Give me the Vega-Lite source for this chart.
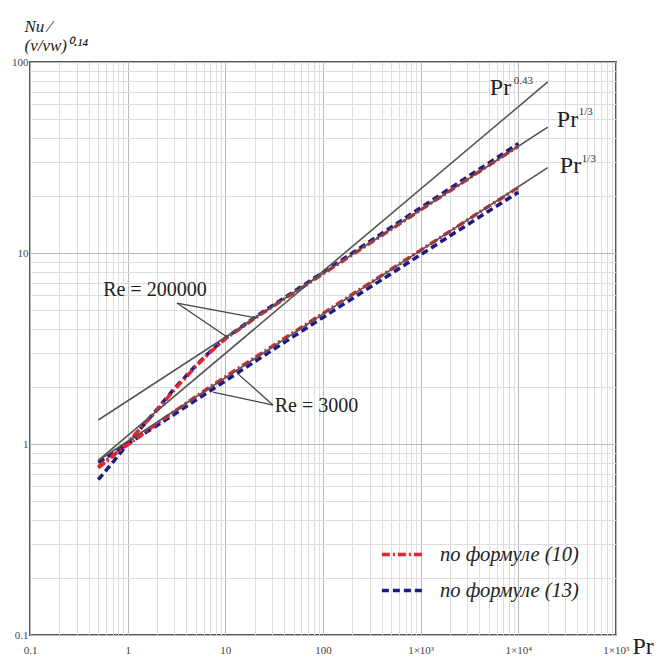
{
  "$schema": "https://vega.github.io/schema/vega-lite/v6.json",
  "width": 586,
  "height": 573,
  "autosize": {"type": "none"},
  "padding": {"left": 30, "top": 62, "right": 48, "bottom": 23},
  "background": "white",
  "config": {
    "font": "Liberation Serif",
    "view": {"stroke": "#555555", "strokeWidth": 2}
  },
  "datasets": {
    "curves": [
      {"Pr": 0.5, "Nu": 0.65, "formula": "по формуле (13)", "Re": "200000"},
      {"Pr": 0.7, "Nu": 0.80, "formula": "по формуле (13)", "Re": "200000"},
      {"Pr": 1, "Nu": 1.00, "formula": "по формуле (13)", "Re": "200000"},
      {"Pr": 1.5, "Nu": 1.28, "formula": "по формуле (13)", "Re": "200000"},
      {"Pr": 2, "Nu": 1.52, "formula": "по формуле (13)", "Re": "200000"},
      {"Pr": 3, "Nu": 1.95, "formula": "по формуле (13)", "Re": "200000"},
      {"Pr": 5, "Nu": 2.58, "formula": "по формуле (13)", "Re": "200000"},
      {"Pr": 7, "Nu": 3.05, "formula": "по формуле (13)", "Re": "200000"},
      {"Pr": 10, "Nu": 3.58, "formula": "по формуле (13)", "Re": "200000"},
      {"Pr": 20, "Nu": 4.60, "formula": "по формуле (13)", "Re": "200000"},
      {"Pr": 30, "Nu": 5.28, "formula": "по формуле (13)", "Re": "200000"},
      {"Pr": 50, "Nu": 6.27, "formula": "по формуле (13)", "Re": "200000"},
      {"Pr": 70, "Nu": 7.02, "formula": "по формуле (13)", "Re": "200000"},
      {"Pr": 100, "Nu": 7.92, "formula": "по формуле (13)", "Re": "200000"},
      {"Pr": 200, "Nu": 10.0, "formula": "по формуле (13)", "Re": "200000"},
      {"Pr": 500, "Nu": 13.65, "formula": "по формуле (13)", "Re": "200000"},
      {"Pr": 1000, "Nu": 17.25, "formula": "по формуле (13)", "Re": "200000"},
      {"Pr": 2000, "Nu": 21.8, "formula": "по формуле (13)", "Re": "200000"},
      {"Pr": 5000, "Nu": 29.6, "formula": "по формуле (13)", "Re": "200000"},
      {"Pr": 10000, "Nu": 37.4, "formula": "по формуле (13)", "Re": "200000"},
      {"Pr": 0.5, "Nu": 0.75, "formula": "по формуле (10)", "Re": "200000"},
      {"Pr": 0.7, "Nu": 0.86, "formula": "по формуле (10)", "Re": "200000"},
      {"Pr": 1, "Nu": 1.02, "formula": "по формуле (10)", "Re": "200000"},
      {"Pr": 1.5, "Nu": 1.28, "formula": "по формуле (10)", "Re": "200000"},
      {"Pr": 2, "Nu": 1.50, "formula": "по формуле (10)", "Re": "200000"},
      {"Pr": 3, "Nu": 1.92, "formula": "по формуле (10)", "Re": "200000"},
      {"Pr": 5, "Nu": 2.55, "formula": "по формуле (10)", "Re": "200000"},
      {"Pr": 7, "Nu": 3.02, "formula": "по формуле (10)", "Re": "200000"},
      {"Pr": 10, "Nu": 3.55, "formula": "по формуле (10)", "Re": "200000"},
      {"Pr": 20, "Nu": 4.55, "formula": "по формуле (10)", "Re": "200000"},
      {"Pr": 30, "Nu": 5.22, "formula": "по формуле (10)", "Re": "200000"},
      {"Pr": 50, "Nu": 6.18, "formula": "по формуле (10)", "Re": "200000"},
      {"Pr": 70, "Nu": 6.90, "formula": "по формуле (10)", "Re": "200000"},
      {"Pr": 100, "Nu": 7.78, "formula": "по формуле (10)", "Re": "200000"},
      {"Pr": 200, "Nu": 9.80, "formula": "по формуле (10)", "Re": "200000"},
      {"Pr": 500, "Nu": 13.3, "formula": "по формуле (10)", "Re": "200000"},
      {"Pr": 1000, "Nu": 16.8, "formula": "по формуле (10)", "Re": "200000"},
      {"Pr": 2000, "Nu": 21.2, "formula": "по формуле (10)", "Re": "200000"},
      {"Pr": 5000, "Nu": 28.8, "formula": "по формуле (10)", "Re": "200000"},
      {"Pr": 10000, "Nu": 36.2, "formula": "по формуле (10)", "Re": "200000"},
      {"Pr": 0.5, "Nu": 0.80, "formula": "по формуле (13)", "Re": "3000"},
      {"Pr": 0.7, "Nu": 0.89, "formula": "по формуле (13)", "Re": "3000"},
      {"Pr": 1, "Nu": 1.00, "formula": "по формуле (13)", "Re": "3000"},
      {"Pr": 1.5, "Nu": 1.14, "formula": "по формуле (13)", "Re": "3000"},
      {"Pr": 2, "Nu": 1.25, "formula": "по формуле (13)", "Re": "3000"},
      {"Pr": 3, "Nu": 1.43, "formula": "по формуле (13)", "Re": "3000"},
      {"Pr": 5, "Nu": 1.70, "formula": "по формуле (13)", "Re": "3000"},
      {"Pr": 7, "Nu": 1.90, "formula": "по формуле (13)", "Re": "3000"},
      {"Pr": 10, "Nu": 2.14, "formula": "по формуле (13)", "Re": "3000"},
      {"Pr": 20, "Nu": 2.70, "formula": "по формуле (13)", "Re": "3000"},
      {"Pr": 30, "Nu": 3.09, "formula": "по формуле (13)", "Re": "3000"},
      {"Pr": 50, "Nu": 3.66, "formula": "по формуле (13)", "Re": "3000"},
      {"Pr": 70, "Nu": 4.09, "formula": "по формуле (13)", "Re": "3000"},
      {"Pr": 100, "Nu": 4.60, "formula": "по формуле (13)", "Re": "3000"},
      {"Pr": 200, "Nu": 5.78, "formula": "по формуле (13)", "Re": "3000"},
      {"Pr": 500, "Nu": 7.80, "formula": "по формуле (13)", "Re": "3000"},
      {"Pr": 1000, "Nu": 9.80, "formula": "по формуле (13)", "Re": "3000"},
      {"Pr": 2000, "Nu": 12.3, "formula": "по формуле (13)", "Re": "3000"},
      {"Pr": 5000, "Nu": 16.6, "formula": "по формуле (13)", "Re": "3000"},
      {"Pr": 10000, "Nu": 20.8, "formula": "по формуле (13)", "Re": "3000"},
      {"Pr": 0.5, "Nu": 0.76, "formula": "по формуле (10)", "Re": "3000"},
      {"Pr": 0.7, "Nu": 0.87, "formula": "по формуле (10)", "Re": "3000"},
      {"Pr": 1, "Nu": 0.99, "formula": "по формуле (10)", "Re": "3000"},
      {"Pr": 1.5, "Nu": 1.15, "formula": "по формуле (10)", "Re": "3000"},
      {"Pr": 2, "Nu": 1.28, "formula": "по формуле (10)", "Re": "3000"},
      {"Pr": 3, "Nu": 1.48, "formula": "по формуле (10)", "Re": "3000"},
      {"Pr": 5, "Nu": 1.77, "formula": "по формуле (10)", "Re": "3000"},
      {"Pr": 7, "Nu": 1.99, "formula": "по формуле (10)", "Re": "3000"},
      {"Pr": 10, "Nu": 2.25, "formula": "по формуле (10)", "Re": "3000"},
      {"Pr": 20, "Nu": 2.83, "formula": "по формуле (10)", "Re": "3000"},
      {"Pr": 30, "Nu": 3.24, "formula": "по формуле (10)", "Re": "3000"},
      {"Pr": 50, "Nu": 3.84, "formula": "по формуле (10)", "Re": "3000"},
      {"Pr": 70, "Nu": 4.29, "formula": "по формуле (10)", "Re": "3000"},
      {"Pr": 100, "Nu": 4.83, "formula": "по формуле (10)", "Re": "3000"},
      {"Pr": 200, "Nu": 6.08, "formula": "по формуле (10)", "Re": "3000"},
      {"Pr": 500, "Nu": 8.22, "formula": "по формуле (10)", "Re": "3000"},
      {"Pr": 1000, "Nu": 10.35, "formula": "по формуле (10)", "Re": "3000"},
      {"Pr": 2000, "Nu": 13.0, "formula": "по формуле (10)", "Re": "3000"},
      {"Pr": 5000, "Nu": 17.6, "formula": "по формуле (10)", "Re": "3000"},
      {"Pr": 10000, "Nu": 22.0, "formula": "по формуле (10)", "Re": "3000"}
    ],
    "refs": [
      {"Pr": 0.5, "Nu": 0.82, "line": "Pr^0.43"},
      {"Pr": 20000, "Nu": 78.6, "line": "Pr^0.43"},
      {"Pr": 0.5, "Nu": 1.336, "line": "Pr^1/3 Re=200000"},
      {"Pr": 20000, "Nu": 45.6, "line": "Pr^1/3 Re=200000"},
      {"Pr": 0.5, "Nu": 0.82, "line": "Pr^1/3 Re=3000"},
      {"Pr": 20000, "Nu": 28.0, "line": "Pr^1/3 Re=3000"}
    ],
    "pointers": [
      {"Pr": 3.2, "Nu": 5.47, "Pr2": 21.05, "Nu2": 4.57},
      {"Pr": 3.2, "Nu": 5.47, "Pr2": 10.4, "Nu2": 3.63},
      {"Pr": 30.7, "Nu": 1.60, "Pr2": 13.2, "Nu2": 2.35},
      {"Pr": 30.7, "Nu": 1.60, "Pr2": 7.46, "Nu2": 1.87}
    ],
    "reLabels": [
      {"Pr": 1.9, "Nu": 6.4, "label": "Re = 200000", "anchor": "center"},
      {"Pr": 32, "Nu": 1.58, "label": "Re = 3000", "anchor": "left"}
    ],
    "prLabels": [
      {"Pr": 5110, "Nu": 67.2, "label": "Pr"},
      {"Pr": 24770, "Nu": 45.7, "label": "Pr"},
      {"Pr": 26600, "Nu": 26.2, "label": "Pr"}
    ],
    "supLabels": [
      {"Pr": 8990, "Nu": 76.7, "label": "0.43"},
      {"Pr": 41600, "Nu": 52.8, "label": "1/3"},
      {"Pr": 44700, "Nu": 29.9, "label": "1/3"}
    ]
  },
  "layer": [
    {
      "data": {"name": "curves"},
      "mark": {"type": "line", "strokeWidth": 3.5, "strokeCap": "butt", "clip": true},
      "encoding": {
        "x": {
          "field": "Pr", "type": "quantitative",
          "scale": {"type": "log", "domain": [0.1, 100000], "nice": false, "zero": false},
          "axis": {
            "values": [0.1,0.2,0.3,0.4,0.5,0.6,0.7,0.8,0.9,1,2,3,4,5,6,7,8,9,10,20,30,40,50,60,70,80,90,100,200,300,400,500,600,700,800,900,1000,2000,3000,4000,5000,6000,7000,8000,9000,10000,20000,30000,40000,50000,60000,70000,80000,90000,100000],
            "labelExpr": "datum.value == 0.1 ? '0.1' : datum.value == 1 ? '1' : datum.value == 10 ? '10' : datum.value == 100 ? '100' : datum.value == 1000 ? '1×10³' : datum.value == 10000 ? '1×10⁴' : datum.value == 100000 ? '1×10⁵' : ''",
            "labelOverlap": false,
            "labelBound": false,
            "labelFlush": false,
            "labelFont": "Liberation Serif",
            "labelFontSize": 11,
            "labelColor": "#444444",
            "labelPadding": 9,
            "ticks": false,
            "domain": false,
            "grid": true,
            "gridColor": {"condition": {"test": "abs(log(datum.value)/LN10 - round(log(datum.value)/LN10)) < 0.000001", "value": "#b8b8b8"}, "value": "#dedede"},
            "gridWidth": 1,
            "title": "Pr",
            "titleFont": "Liberation Serif",
            "titleFontSize": 24,
            "titleFontWeight": "normal",
            "titleColor": "#222222",
            "titleAnchor": "start",
            "titleAlign": "left",
            "titleBaseline": "middle",
            "titleX": 602,
            "titleY": 11
          }
        },
        "y": {
          "field": "Nu", "type": "quantitative",
          "scale": {"type": "log", "domain": [0.1, 100], "nice": false, "zero": false},
          "axis": {
            "values": [0.1,0.2,0.3,0.4,0.5,0.6,0.7,0.8,0.9,1,2,3,4,5,6,7,8,9,10,20,30,40,50,60,70,80,90,100],
            "labelExpr": "datum.value == 0.1 ? '0.1' : datum.value == 1 ? '1' : datum.value == 10 ? '10' : datum.value == 100 ? '100' : ''",
            "labelOverlap": false,
            "labelBound": false,
            "labelFlush": false,
            "labelFont": "Liberation Serif",
            "labelFontSize": 11,
            "labelColor": "#444444",
            "labelPadding": 2,
            "ticks": false,
            "domain": false,
            "grid": true,
            "gridColor": {"condition": {"test": "abs(log(datum.value)/LN10 - round(log(datum.value)/LN10)) < 0.000001", "value": "#b8b8b8"}, "value": "#dedede"},
            "gridWidth": 1,
            "title": ["Nu ⁄", "\u00a0\u00a0\u00a0(ν/νw)⁰·¹⁴"],
            "titleFont": "Liberation Serif",
            "titleFontSize": 17,
            "titleFontStyle": "italic",
            "titleFontWeight": "normal",
            "titleColor": "#222222",
            "titleAngle": 0,
            "titleAlign": "left",
            "titleBaseline": "alphabetic",
            "titleLineHeight": 19,
            "titleX": -6,
            "titleY": -31
          }
        },
        "color": {
          "field": "formula", "type": "nominal",
          "scale": {"domain": ["по формуле (10)", "по формуле (13)"], "range": ["#e8232b", "#1b1a86"]},
          "legend": {
            "title": null,
            "orient": "none",
            "legendX": 350,
            "legendY": 470,
            "symbolType": "stroke",
            "symbolSize": 1700,
            "symbolStrokeWidth": 3.5,
            "labelFont": "Liberation Serif",
            "labelFontSize": 20.5,
            "labelFontStyle": "italic",
            "labelColor": "#222222",
            "labelOffset": 15,
            "rowPadding": 3,
            "labelLimit": 300
          }
        },
        "strokeDash": {
          "field": "formula", "type": "nominal",
          "scale": {"domain": ["по формуле (10)", "по формуле (13)"], "range": [[8, 3, 2, 3], [7, 4]]},
          "legend": {
            "title": null,
            "orient": "none",
            "legendX": 350,
            "legendY": 470,
            "symbolType": "stroke",
            "symbolSize": 1700,
            "symbolStrokeWidth": 3.5,
            "labelFont": "Liberation Serif",
            "labelFontSize": 20.5,
            "labelFontStyle": "italic",
            "labelColor": "#222222",
            "labelOffset": 15,
            "rowPadding": 3,
            "labelLimit": 300
          }
        },
        "detail": {"field": "Re", "type": "nominal"}
      }
    },
    {
      "data": {"name": "refs"},
      "mark": {"type": "line", "stroke": "#555555", "strokeWidth": 1.6},
      "encoding": {
        "x": {"field": "Pr", "type": "quantitative"},
        "y": {"field": "Nu", "type": "quantitative"},
        "detail": {"field": "line", "type": "nominal"}
      }
    },
    {
      "data": {"name": "pointers"},
      "mark": {"type": "rule", "stroke": "#444444", "strokeWidth": 1.3},
      "encoding": {
        "x": {"field": "Pr", "type": "quantitative"},
        "y": {"field": "Nu", "type": "quantitative"},
        "x2": {"field": "Pr2"},
        "y2": {"field": "Nu2"}
      }
    },
    {
      "data": {"name": "reLabels"},
      "transform": [{"filter": "datum.anchor == 'center'"}],
      "mark": {"type": "text", "font": "Liberation Serif", "fontSize": 20, "color": "#222222", "align": "center", "baseline": "middle"},
      "encoding": {
        "x": {"field": "Pr", "type": "quantitative"},
        "y": {"field": "Nu", "type": "quantitative"},
        "text": {"field": "label"}
      }
    },
    {
      "data": {"name": "reLabels"},
      "transform": [{"filter": "datum.anchor == 'left'"}],
      "mark": {"type": "text", "font": "Liberation Serif", "fontSize": 20, "color": "#222222", "align": "left", "baseline": "middle"},
      "encoding": {
        "x": {"field": "Pr", "type": "quantitative"},
        "y": {"field": "Nu", "type": "quantitative"},
        "text": {"field": "label"}
      }
    },
    {
      "data": {"name": "prLabels"},
      "mark": {"type": "text", "font": "Liberation Serif", "fontSize": 24, "color": "#222222", "align": "left", "baseline": "alphabetic"},
      "encoding": {
        "x": {"field": "Pr", "type": "quantitative"},
        "y": {"field": "Nu", "type": "quantitative"},
        "text": {"field": "label"}
      }
    },
    {
      "data": {"name": "supLabels"},
      "mark": {"type": "text", "font": "Liberation Serif", "fontSize": 11, "color": "#333333", "align": "left", "baseline": "alphabetic"},
      "encoding": {
        "x": {"field": "Pr", "type": "quantitative"},
        "y": {"field": "Nu", "type": "quantitative"},
        "text": {"field": "label"}
      }
    }
  ]
}
